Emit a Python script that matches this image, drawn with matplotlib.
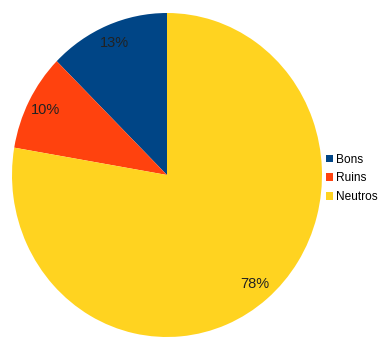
import matplotlib

matplotlib.use('Agg')
import matplotlib.pyplot as plt

# Parts des issues
labels = ['Bons', 'Ruins', 'Neutros']
shares = [12.6, 9.7, 77.7]
colors = ['#004586', '#ff420e', '#ffd320']

plt.rcParams['font.family'] = ['Liberation Sans', 'DejaVu Sans']

fig = plt.figure(figsize=(3.81, 3.38), dpi=100)
ax = fig.add_axes([12 / 381, 1 / 338, 310 / 381, 324 / 338])

wedges, texts, autotexts = ax.pie(
    shares, colors=colors, startangle=90, counterclock=True,
    autopct='%.0f%%', pctdistance=0.88,
    wedgeprops={'linewidth': 0},
    textprops={'fontsize': 10.5, 'color': '#222222'},
)
ax.set_aspect('auto')
ax.set_xlim(-1, 1)
ax.set_ylim(-1, 1)
ax.axis('off')

fig.legend(wedges, labels, loc='center left', bbox_to_anchor=(326 / 381, 0.472),
           frameon=False, fontsize=8.6, handlelength=0.6, handleheight=0.6,
           handletextpad=0.25, labelspacing=0.55, borderpad=0, borderaxespad=0)

plt.savefig('out.png', dpi=100)
plt.close()
